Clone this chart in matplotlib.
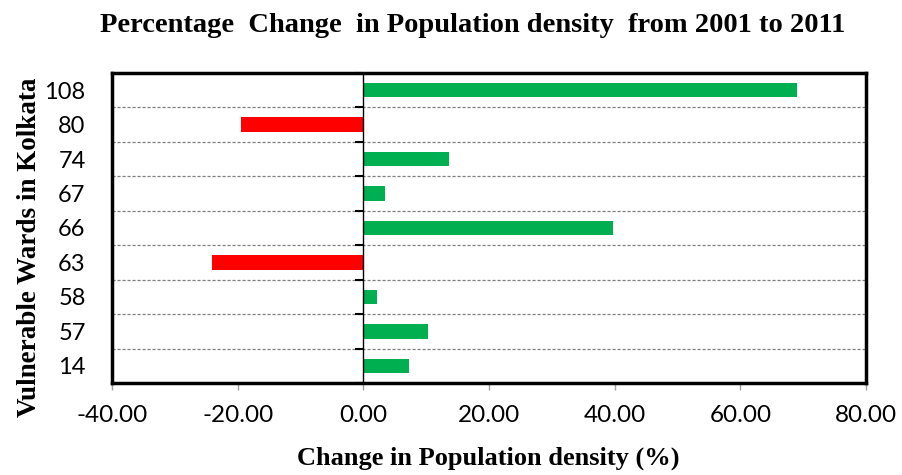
import matplotlib
matplotlib.use("Agg")
import matplotlib.pyplot as plt
import numpy as np

wards = ["14", "57", "58", "63", "66", "67", "74", "80", "108"]
change = [7.2, 10.3, 2.1, -24.1, 39.7, 3.4, 13.6, -19.5, 69.0]
xticks = [-40, -20, 0, 20, 40, 60, 80]

GREEN = "#00B050"
RED = "#FF0000"

fig = plt.figure(figsize=(9.02, 4.75), dpi=100)
ax = fig.add_axes([112/902, 1-383/475, (866-112)/902, (383-73)/475])

y = np.arange(len(wards))
colors = [GREEN if v >= 0 else RED for v in change]
ax.barh(y, change, height=0.42, color=colors, zorder=3)

ax.set_xlim(-40, 80)
ax.set_ylim(-0.5, len(wards) - 0.5)

# dashed gridlines at category boundaries
for b in np.arange(0.5, len(wards) - 0.5, 1.0):
    ax.axhline(b, color="#7f7f7f", linestyle=(0, (2.5, 1.5)), linewidth=0.9, zorder=1)

# vertical axis line at zero with boundary ticks
ax.axvline(0, color="black", linewidth=1.0, zorder=4)
bounds = np.arange(-0.5, len(wards), 1.0)
ax.plot(np.zeros(len(bounds)), bounds, linestyle="none", marker=0,
        markersize=6, markeredgewidth=1.5, color="black", zorder=5, clip_on=False)

ax.set_yticks(y)
ax.set_yticklabels(wards, fontfamily="Lato", fontsize=17)
ax.tick_params(axis="y", length=0, pad=19)

ax.set_xticks(xticks)
ax.set_xticklabels([f"{v:.2f}" for v in xticks], fontfamily="Lato", fontsize=17.5)
ax.tick_params(axis="x", length=5, width=1, color="#a0a0a0", pad=11)

for s in ax.spines.values():
    s.set_linewidth(2.5)
    s.set_color("black")

fig.text(473/902, 1-25/475, "Percentage  Change  in Population density  from 2001 to 2011",
         ha="center", va="center", fontfamily="Liberation Serif", fontweight="bold", fontsize=20.5)
fig.text(30/902, 1-247/475, "Vulnerable Wards in Kolkata", rotation=90,
         ha="center", va="center", fontfamily="Liberation Serif", fontweight="bold", fontsize=19.5)
fig.text(488/902, 1-458/475, "Change in Population density (%)",
         ha="center", va="center", fontfamily="Liberation Serif", fontweight="bold", fontsize=19)

fig.savefig("out.png", dpi=100)
